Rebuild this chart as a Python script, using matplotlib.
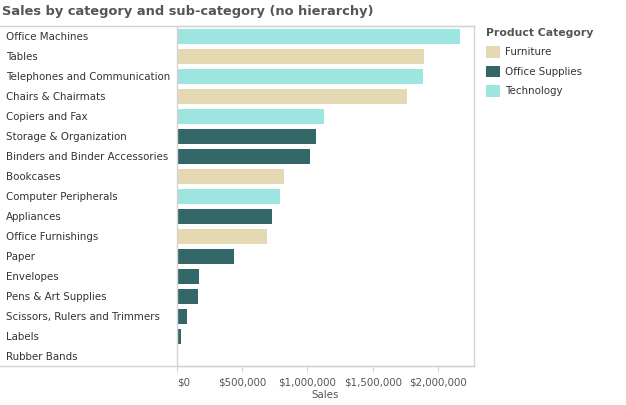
import matplotlib
matplotlib.use("Agg")
import matplotlib.pyplot as plt
from matplotlib.patches import Patch
from matplotlib.lines import Line2D
from matplotlib.ticker import FuncFormatter

# data
subcats = ["Office Machines", "Tables", "Telephones and Communication", "Chairs & Chairmats",
           "Copiers and Fax", "Storage & Organization", "Binders and Binder Accessories",
           "Bookcases", "Computer Peripherals", "Appliances", "Office Furnishings", "Paper",
           "Envelopes", "Pens & Art Supplies", "Scissors, Rulers and Trimmers", "Labels",
           "Rubber Bands"]
category = ["Technology", "Furniture", "Technology", "Furniture",
            "Technology", "Office Supplies", "Office Supplies",
            "Furniture", "Technology", "Office Supplies", "Furniture", "Office Supplies",
            "Office Supplies", "Office Supplies", "Office Supplies", "Office Supplies",
            "Office Supplies"]
sales = [2166000, 1891000, 1883000, 1761000,
         1126000, 1065000, 1019000,
         820000, 790000, 729000, 690000, 438000,
         171000, 163000, 79000, 33000,
         8000]

cat_names = ["Furniture", "Office Supplies", "Technology"]
cat_colors = {"Furniture": "#e4d9b2", "Office Supplies": "#336666", "Technology": "#9de6df"}

plt.rcParams['font.family'] = ['DejaVu Sans']
W, H = 626, 405
fig = plt.figure(figsize=(W / 100, H / 100), dpi=100)
ax = fig.add_axes([176.7 / W, 1 - 366 / H, (474 - 176.7) / W, (366 - 26) / H])

y = list(range(len(subcats)))
ax.barh(y, sales, height=0.75, color=[cat_colors[c] for c in category])
ax.set_ylim(len(subcats) - 0.5, -0.5)
ax.set_xlim(0, 2273000)

ax.set_yticks(y)
ax.set_yticklabels(subcats, fontsize=7.4, color="#333333", ha="left")
ax.tick_params(axis="y", length=0, pad=123)

ax.set_xticks([0, 500000, 1000000, 1500000, 2000000])
ax.xaxis.set_major_formatter(FuncFormatter(lambda v, p: "${:,.0f}".format(v)))
ax.tick_params(axis="x", labelsize=7.4, labelcolor="#555555", color="#d4d4d4", length=4, pad=4)
ax.get_xticklabels()[0].set_ha("left")
ax.set_xlabel("Sales", fontsize=7.4, color="#555555", labelpad=2)

for s in ax.spines.values():
    s.set_color("#d4d4d4")
    s.set_linewidth(1)

# row-label pane borders
fig.add_artist(Line2D([0, 474 / W], [1 - 26 / H, 1 - 26 / H], color="#d4d4d4", lw=1))
fig.add_artist(Line2D([0, 474 / W], [1 - 366 / H, 1 - 366 / H], color="#d4d4d4", lw=1))

fig.text(2 / W, 1 - 12 / H, "Sales by category and sub-category (no hierarchy)",
         fontsize=9.4, fontweight="bold", color="#555555", va="center", ha="left")

handles = [Patch(facecolor=cat_colors[c], label=c) for c in cat_names]
leg = fig.legend(handles=handles, loc="upper left", bbox_to_anchor=(486 / W, 1 - 28 / H),
                 frameon=False, fontsize=7.4, title="Product Category",
                 title_fontproperties={"weight": "bold", "size": 7.8},
                 handlelength=1.35, handleheight=1.35, handletextpad=0.5, labelspacing=0.78,
                 borderaxespad=0, borderpad=0)
leg._legend_box.align = "left"
leg.get_title().set_color("#555555")
for t in leg.get_texts():
    t.set_color("#333333")

fig.savefig("out.png", dpi=100)
